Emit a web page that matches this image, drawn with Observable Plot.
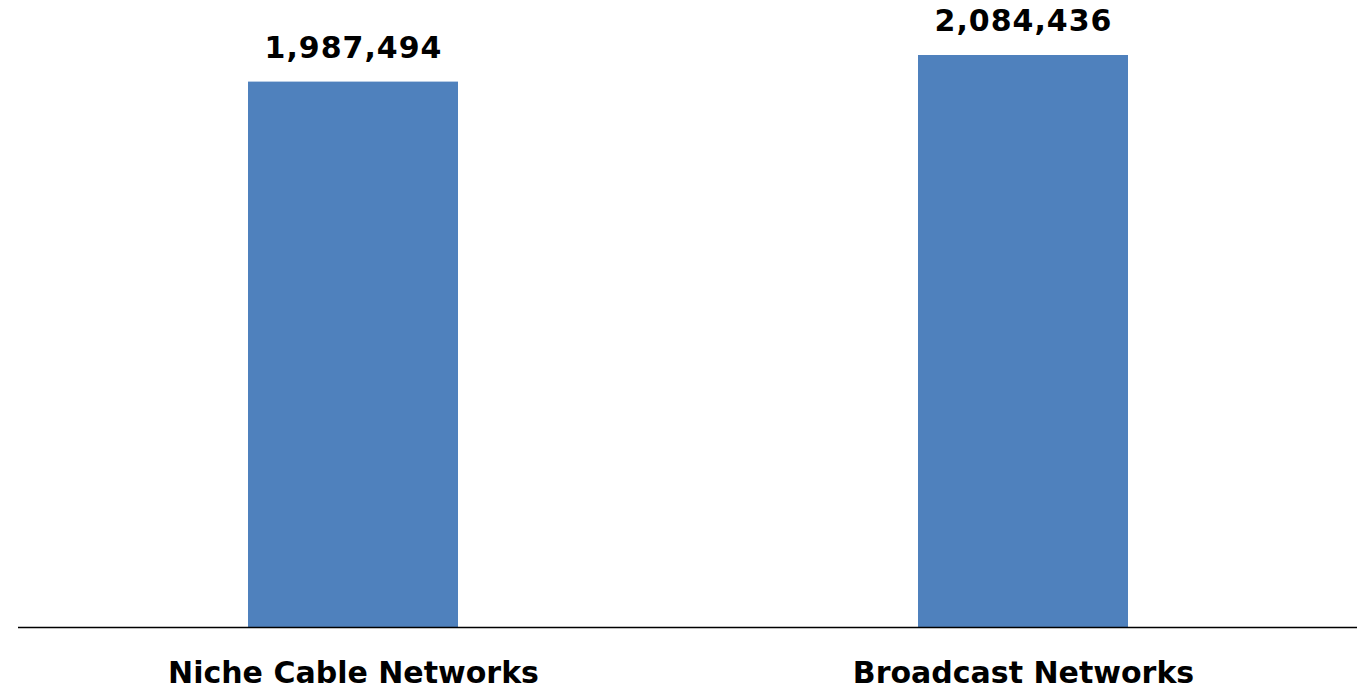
<!DOCTYPE html>
<html>
<head>
<meta charset="utf-8">
<script src="https://cdn.jsdelivr.net/npm/d3@7"></script>
<script src="https://cdn.jsdelivr.net/npm/@observablehq/plot@0.6"></script>
<style>
  html, body { margin: 0; padding: 0; background: #fff; }
  #chart svg { display: block; }
  .vlabel text { letter-spacing: 1px; }
</style>
</head>
<body>
<div id="chart"></div>
<script>
const categories = ["Niche Cable Networks", "Broadcast Networks"];
const values = [1987494, 2084436];

const data = categories.map((c, i) => ({category: c, value: values[i]}));
const fmt = d3.format(",");

const chart = Plot.plot({
  width: 1361,
  height: 690,
  marginTop: 55,
  marginBottom: 63,
  marginLeft: 18,
  marginRight: 4,
  style: {fontFamily: "DejaVu Sans", background: "#fff"},
  x: {domain: categories, paddingInner: 0.6866, paddingOuter: 0.3425, label: null},
  y: {domain: [0, 2084436], axis: null},
  marks: [
    Plot.barY(data, {x: "category", y: "value", fill: "#4F81BD"}),
    Plot.ruleY([0], {stroke: "#000", strokeWidth: 1.5}),
    Plot.text(data, {x: "category", y: "value", text: d => fmt(d.value), dy: -34, fontSize: 30, fontWeight: "bold", fill: "#000", className: "vlabel"}),
    Plot.axisX({tickSize: 0, tickPadding: 34, fontSize: 30, fontWeight: "bold", fill: "#000", label: null})
  ]
});
document.getElementById("chart").append(chart);
</script>
</body>
</html>
